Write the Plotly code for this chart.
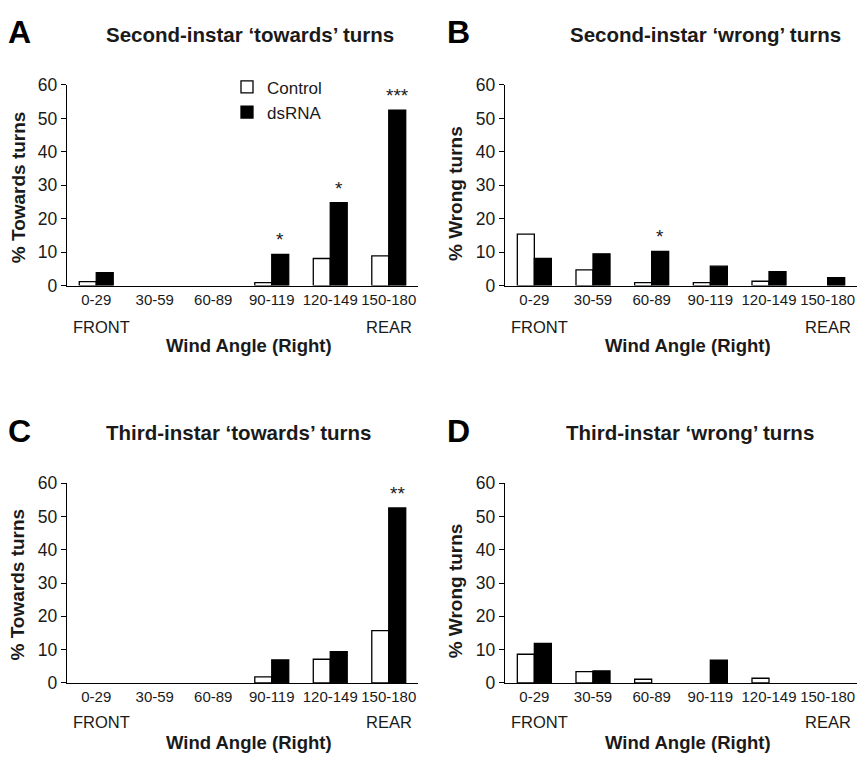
import plotly.graph_objects as go

W, H = 864, 763

categories = ["0-29", "30-59", "60-89", "90-119", "120-149", "150-180"]

a_control = [1.2, 0, 0, 0.9, 8.1, 8.9]
a_dsrna = [3.9, 0, 0, 9.3, 24.8, 52.5]
b_control = [15.4, 4.7, 0.9, 0.9, 1.3, 0]
b_dsrna = [8.1, 9.5, 10.2, 5.8, 4.2, 2.4]
c_control = [0, 0, 0, 1.8, 7.1, 15.7]
c_dsrna = [0, 0, 0, 6.9, 9.4, 52.6]
d_control = [8.6, 3.4, 1.1, 0, 1.4, 0]
d_dsrna = [11.9, 3.6, 0, 6.8, 0, 0]

a_sig = {"90-119": "*", "120-149": "*", "150-180": "***"}
b_sig = {"60-89": "*"}
c_sig = {"150-180": "**"}
d_sig = {}

panel_letters = ["A", "B", "C", "D"]
panel_titles = [
    "Second-instar \u2018towards\u2019 turns",
    "Second-instar \u2018wrong\u2019 turns",
    "Third-instar \u2018towards\u2019 turns",
    "Third-instar \u2018wrong\u2019 turns",
]
y_titles = ["% Towards turns", "% Wrong turns", "% Towards turns", "% Wrong turns"]
x_title = "Wind Angle (Right)"
front_label, rear_label = "FRONT", "REAR"

FONT = "Liberation Sans, Arial, Helvetica, sans-serif"
TXT = "#1a1a1a"


def px(x):
    return x / W


def py(y):
    return 1 - y / H


# plot boxes in pixels: (left, right, top, bottom)
boxes = [
    (67, 418, 77, 283),
    (505, 857, 77, 283),
    (67, 418, 486, 691),
    (505, 857, 486, 691),
]
letter_pos = [(6, 23), (445, 23), (6, 432), (445, 432)]
title_pos = [(250, 25), (705, 25), (239, 434), (690, 434)]
ytitle_pos = [(18, 182), (455, 189), (18, 590), (455, 597)]
xtitle_pos = [(249, 345), (688, 345), (249, 752), (688, 752)]

data = [
    (a_control, a_dsrna, a_sig),
    (b_control, b_dsrna, b_sig),
    (c_control, c_dsrna, c_sig),
    (d_control, d_dsrna, d_sig),
]

fig = go.Figure()
annotations = []
layout = {}

for i, (ctrl, ds, sig) in enumerate(data):
    n = "" if i == 0 else str(i + 1)
    xa, ya = "x" + n, "y" + n
    fig.add_trace(go.Bar(
        x=categories, y=ctrl, name="Control", xaxis=xa, yaxis=ya,
        marker=dict(color="white",
                    line=dict(color="black", width=[1.3 if v > 0 else 0 for v in ctrl])),
        showlegend=(i == 0), legendgroup="c",
    ))
    fig.add_trace(go.Bar(
        x=categories, y=ds, name="dsRNA", xaxis=xa, yaxis=ya,
        marker=dict(color="black",
                    line=dict(color="black", width=[1.3 if v > 0 else 0 for v in ds])),
        showlegend=(i == 0), legendgroup="d",
    ))
    l, r, t, b = boxes[i]
    layout["xaxis" + n] = dict(
        domain=[px(l), px(r)], anchor=ya, type="category",
        categoryorder="array", categoryarray=categories,
        showline=True, linecolor="black", linewidth=1.4,
        ticks="", showgrid=False, zeroline=False, tickangle=0,
        tickfont=dict(family=FONT, size=15, color=TXT),
    )
    layout["yaxis" + n] = dict(
        domain=[py(b), py(t)], anchor=xa, range=[0, 60],
        tickvals=[0, 10, 20, 30, 40, 50, 60],
        showline=True, linecolor="black", linewidth=1.4,
        ticks="outside", ticklen=5, tickcolor="black", tickwidth=1.3,
        showgrid=False, zeroline=False,
        tickfont=dict(family=FONT, size=17.5, color=TXT),
    )
    for cat, s in sig.items():
        j = categories.index(cat)
        annotations.append(dict(
            x=cat, y=ds[j], xref=xa, yref=ya, text=s, showarrow=False,
            xshift=8.5, yshift=2, yanchor="bottom",
            font=dict(family=FONT, size=19, color=TXT),
        ))
    annotations.append(dict(
        x=categories[0], y=0, xref=xa, yref=ya + " domain", text=front_label,
        showarrow=False, xshift=5, yshift=-41 if i < 2 else -39, yanchor="middle",
        font=dict(family=FONT, size=16.5, color=TXT),
    ))
    annotations.append(dict(
        x=categories[-1], y=0, xref=xa, yref=ya + " domain", text=rear_label,
        showarrow=False, xshift=0, yshift=-41 if i < 2 else -39, yanchor="middle",
        font=dict(family=FONT, size=16.5, color=TXT),
    ))
    lx, ly = letter_pos[i]
    annotations.append(dict(
        x=px(lx), y=py(ly), xref="paper", yref="paper", text="<b>%s</b>" % panel_letters[i],
        showarrow=False, xanchor="left", yanchor="middle",
        font=dict(family=FONT, size=32, color="black"),
    ))
    tx, ty = title_pos[i]
    annotations.append(dict(
        x=px(tx), y=py(ty), xref="paper", yref="paper", text="<b>%s</b>" % panel_titles[i],
        showarrow=False, xanchor="center", yanchor="middle",
        font=dict(family=FONT, size=20.5, color=TXT),
    ))
    yx, yy = ytitle_pos[i]
    annotations.append(dict(
        x=px(yx), y=py(yy), xref="paper", yref="paper", text="<b>%s</b>" % y_titles[i],
        showarrow=False, xanchor="center", yanchor="middle", textangle=-90,
        font=dict(family=FONT, size=19, color=TXT),
    ))
    wx, wy = xtitle_pos[i]
    annotations.append(dict(
        x=px(wx), y=py(wy), xref="paper", yref="paper", text="<b>%s</b>" % x_title,
        showarrow=False, xanchor="center", yanchor="middle",
        font=dict(family=FONT, size=18.5, color=TXT),
    ))

fig.update_layout(
    width=W, height=H,
    margin=dict(l=0, r=0, t=0, b=0),
    paper_bgcolor="white", plot_bgcolor="white",
    barmode="group", bargap=0.42, bargroupgap=0,
    showlegend=True,
    legend=dict(
        x=px(227), y=py(61), xanchor="left", yanchor="top",
        font=dict(family=FONT, size=17, color=TXT),
        bgcolor="rgba(0,0,0,0)", tracegroupgap=0, itemwidth=30,
    ),
    annotations=annotations,
    **layout,
)

fig.write_html("out.html")
